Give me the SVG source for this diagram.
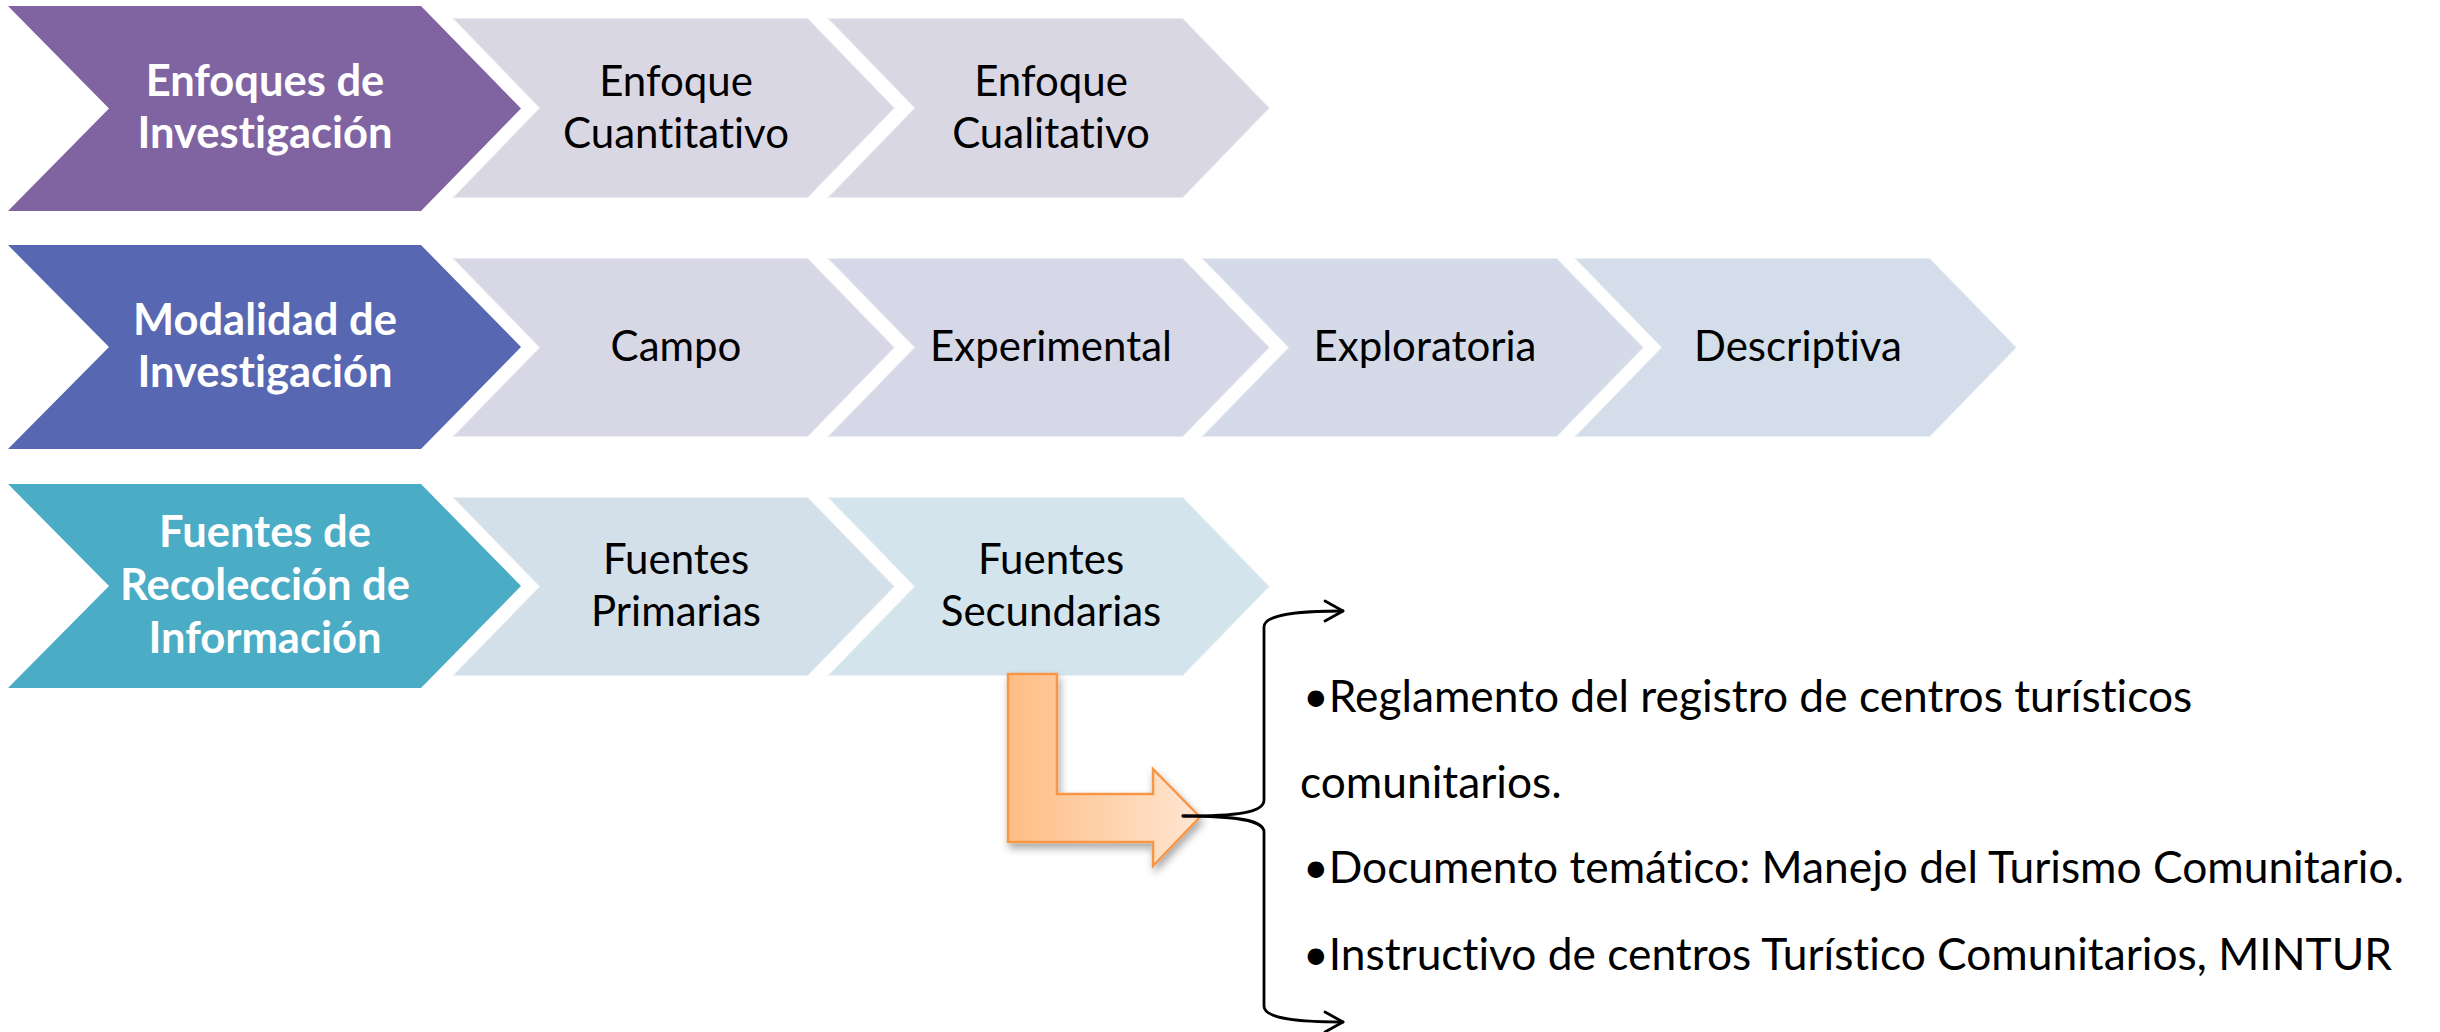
<svg xmlns="http://www.w3.org/2000/svg" width="2440" height="1032" viewBox="0 0 2440 1032">
  <defs>
    <style>
      text { font-variant-ligatures: none; }
      .main { font-family: Lato, "Liberation Sans", sans-serif; font-weight: bold; font-size: 43.5px; fill: #ffffff; text-anchor: middle; }
      .sub { font-family: Lato, "Liberation Sans", sans-serif; font-size: 42px; fill: #000000; text-anchor: middle; }
      .list { font-family: Lato, "Liberation Sans", sans-serif; font-size: 44.3px; fill: #000000; }
      .lite { stroke: #ffffff; stroke-opacity: 0.5; stroke-width: 2; }
      .brace { fill: none; stroke: #000000; stroke-width: 2.8; stroke-linecap: round; stroke-linejoin: round; }
    </style>
    <linearGradient id="orange" x1="0" y1="0" x2="1" y2="0">
      <stop offset="0" stop-color="#FFBD84"/>
      <stop offset="1" stop-color="#FFE6D2"/>
    </linearGradient>
    <filter id="shadow" x="-20%" y="-20%" width="150%" height="150%">
      <feGaussianBlur in="SourceAlpha" stdDeviation="4"/>
      <feOffset dx="2" dy="5" result="b"/>
      <feComponentTransfer><feFuncA type="linear" slope="0.35"/></feComponentTransfer>
      <feMerge><feMergeNode/><feMergeNode in="SourceGraphic"/></feMerge>
    </filter>
  </defs>
  <rect width="2440" height="1032" fill="#ffffff"/>

  <!-- Row 1 -->
  <g id="enfoques">
    <polygon points="8,6 421,6 521,108.5 421,211 8,211 109,108.5" fill="#8064A2"/>
    <text class="main" x="265" y="96">Enfoques de</text>
    <text class="main" x="265" y="148">Investigación</text>
  </g>
  <g id="cuantitativo">
    <polygon class="lite" points="452,18 808,18 895,108 808,198 452,198 539,108" fill="#DAD7E4"/>
    <text class="sub" x="676" y="96">Enfoque</text>
    <text class="sub" x="676" y="148">Cuantitativo</text>
  </g>
  <g id="cualitativo">
    <polygon class="lite" points="827,18 1183,18 1270,108 1183,198 827,198 914,108" fill="#DAD7E4"/>
    <text class="sub" x="1051" y="96">Enfoque</text>
    <text class="sub" x="1051" y="148">Cualitativo</text>
  </g>

  <!-- Row 2 -->
  <g id="modalidad">
    <polygon points="8,245 421,245 521,347 421,449 8,449 109,347" fill="#5867B2"/>
    <text class="main" x="265" y="335">Modalidad de</text>
    <text class="main" x="265" y="387">Investigación</text>
  </g>
  <g id="campo">
    <polygon class="lite" points="452,258 808,258 895,347.5 808,437 452,437 539,347.5" fill="#D8D7E6"/>
    <text class="sub" x="676" y="361">Campo</text>
  </g>
  <g id="experimental">
    <polygon class="lite" points="827,258 1183,258 1270,347.5 1183,437 827,437 914,347.5" fill="#D6D8E7"/>
    <text class="sub" x="1051" y="361">Experimental</text>
  </g>
  <g id="exploratoria">
    <polygon class="lite" points="1201,258 1557,258 1644,347.5 1557,437 1201,437 1288,347.5" fill="#D4DAE8"/>
    <text class="sub" x="1425" y="361">Exploratoria</text>
  </g>
  <g id="descriptiva">
    <polygon class="lite" points="1574,258 1930,258 2017,347.5 1930,437 1574,437 1661,347.5" fill="#D3DEEA"/>
    <text class="sub" x="1798" y="361">Descriptiva</text>
  </g>

  <!-- Row 3 -->
  <g id="fuentes">
    <polygon points="8,484 421,484 521,586 421,688 8,688 109,586" fill="#4BACC6"/>
    <text class="main" x="265" y="547">Fuentes de</text>
    <text class="main" x="265" y="600">Recolección de</text>
    <text class="main" x="265" y="653">Información</text>
  </g>
  <g id="primarias">
    <polygon class="lite" points="452,497 808,497 895,586.5 808,676 452,676 539,586.5" fill="#D4E0E9"/>
    <text class="sub" x="676" y="574">Fuentes</text>
    <text class="sub" x="676" y="626">Primarias</text>
  </g>
  <g id="secundarias">
    <polygon class="lite" points="827,497 1183,497 1270,586.5 1183,676 827,676 914,586.5" fill="#D3E4EC"/>
    <text class="sub" x="1051" y="574">Fuentes</text>
    <text class="sub" x="1051" y="626">Secundarias</text>
  </g>

  <!-- Bent arrow -->
  <g id="bent-arrow">
    <polygon points="1008,674 1057,674 1057,794 1153,794 1153,769 1200,817 1153,866 1153,842 1008,842" fill="url(#orange)" stroke="#F79646" stroke-width="2.5" stroke-linejoin="miter" filter="url(#shadow)"/>
  </g>

  <!-- Brace connectors -->
  <g id="connectors">
    <path class="brace" d="M1183,816 C1236,816 1264,813 1264,800 L1264,627 C1264,614 1300,611 1343,611"/>
    <path class="brace" d="M1325,601 L1343,611 L1325,621"/>
    <path class="brace" d="M1183,816 C1236,816 1264,820 1264,832 L1264,1006 C1264,1019 1300,1022 1343,1022"/>
    <path class="brace" d="M1325,1012 L1343,1022 L1325,1032"/>
  </g>

  <!-- Text list -->
  <g id="list">
    <text class="list" x="1303" y="712">•Reglamento del registro de centros turísticos</text>
    <text class="list" x="1300" y="798">comunitarios.</text>
    <text class="list" x="1303" y="883">•Documento temático: Manejo del Turismo Comunitario.</text>
    <text class="list" x="1303" y="970">•Instructivo de centros Turístico Comunitarios, MINTUR</text>
  </g>
</svg>
